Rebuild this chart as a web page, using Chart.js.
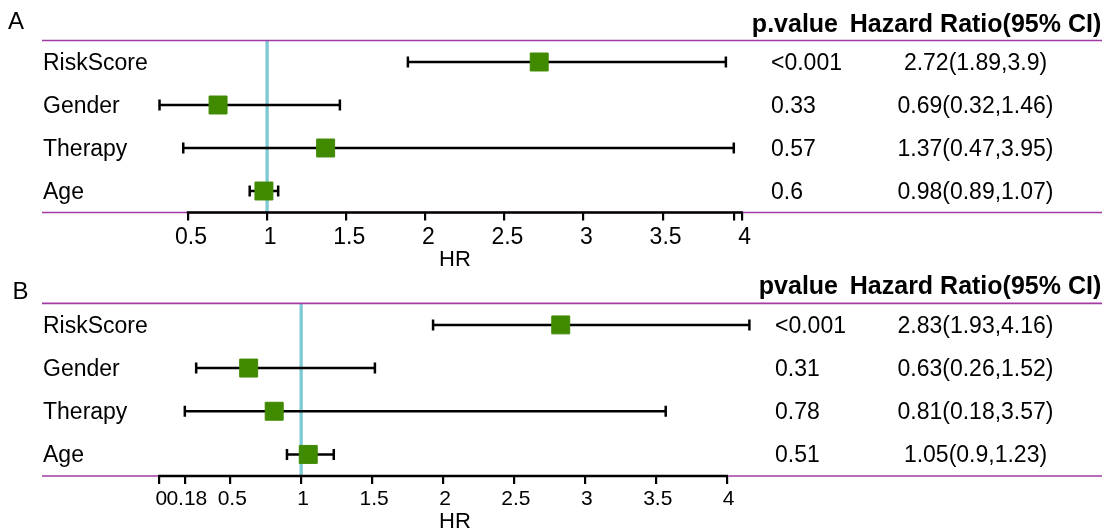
<!DOCTYPE html>
<html><head><meta charset="utf-8">
<script src="https://cdn.jsdelivr.net/npm/chart.js@4.4.1/dist/chart.umd.min.js"></script>
<style>
html,body{margin:0;padding:0;background:#fff;}
#wrap{position:relative;width:1107px;height:529px;overflow:hidden;background:#fff;}
canvas{position:absolute;left:0;display:block;}
#cA{top:0;} #cB{top:270px;}
</style></head><body>
<div id="wrap"><canvas id="cA" width="1107" height="270"></canvas><canvas id="cB" width="1107" height="259"></canvas></div>
<script>
// ---- data ----
const categories = ['RiskScore', 'Gender', 'Therapy', 'Age'];
const columnHeadersA = ['p.value', 'Hazard Ratio(95% CI)'];
const columnHeadersB = ['pvalue', 'Hazard Ratio(95% CI)'];
const hrA   = [2.72, 0.69, 1.37, 0.98];
const lowA  = [1.89, 0.32, 0.47, 0.89];
const highA = [3.9, 1.46, 3.95, 1.07];
const pA    = ['<0.001', '0.33', '0.57', '0.6'];
const ticksA = [0.5, 1, 1.5, 2, 2.5, 3, 3.5, 3.95, 4];
const tickLabelsA = ['0.5', '1', '1.5', '2', '2.5', '3', '3.5', '', '4'];
const hrB   = [2.83, 0.63, 0.81, 1.05];
const lowB  = [1.93, 0.26, 0.18, 0.9];
const highB = [4.16, 1.52, 3.57, 1.23];
const pB    = ['<0.001', '0.31', '0.78', '0.51'];
const ticksB = [0, 0.18, 0.5, 1, 1.5, 2, 2.5, 3, 3.5, 4];
const tickLabelsB = ['0', '0.18', '0.5', '1', '1.5', '2', '2.5', '3', '3.5', '4'];
const refLine = 1;
const axisTitle = 'HR';

// ---- styling ----
const FONT = '"Liberation Sans", Arial, Helvetica, sans-serif';
const PURPLE = '#A33BA6', CYAN = '#7DC9D4', GREEN = '#408A00';

function forest(id, d, L) {
  const n = categories.length;
  const rowY = i => n - i;
  const datasets = [];
  datasets.push({
    data: [{x: refLine, y: 0.5}, {x: refLine, y: n + 0.5}],
    showLine: true, borderColor: CYAN, borderWidth: 3.3, pointRadius: 0, fill: false, order: 3
  });
  categories.forEach((c, i) => {
    datasets.push({
      data: [{x: d.low[i], y: rowY(i)}, {x: d.high[i], y: rowY(i)}],
      showLine: true, fill: false, borderColor: '#000', borderWidth: 2.5,
      pointStyle: 'line', pointRotation: 90, pointRadius: 5.5,
      pointBorderWidth: 2.5, pointBorderColor: '#000', pointBackgroundColor: '#000', order: 2
    });
  });
  datasets.push({
    data: d.hr.map((v, i) => ({x: v, y: rowY(i)})),
    pointStyle: 'rect', pointRadius: 12.7, pointBackgroundColor: GREEN,
    pointBorderColor: GREEN, pointBorderWidth: 1, order: 1
  });

  const decor = {
    id: 'forestDecor',
    afterDraw(chart) {
      const ctx = chart.ctx, ca = chart.chartArea, xs = chart.scales.x, ys = chart.scales.y;
      ctx.save();
      ctx.strokeStyle = PURPLE; ctx.lineWidth = 1.7;
      [ca.top, ca.bottom].forEach(y => { ctx.beginPath(); ctx.moveTo(42, y); ctx.lineTo(1102, y); ctx.stroke(); });
      ctx.strokeStyle = '#000'; ctx.lineWidth = 2.4;
      ctx.beginPath();
      ctx.moveTo(xs.getPixelForValue(d.ticks[0]) - 1.2, ca.bottom);
      ctx.lineTo(xs.getPixelForValue(d.ticks[d.ticks.length - 1]) + 1.2, ca.bottom);
      ctx.stroke();

      ctx.fillStyle = '#000';
      ctx.textBaseline = 'alphabetic';
      ctx.font = `24px ${FONT}`;
      ctx.textAlign = 'left';
      ctx.fillText(L.letter, L.letterX, L.letterY);

      ctx.font = `bold 25px ${FONT}`;
      ctx.textAlign = 'right';
      ctx.fillText(d.headers[0], 838, L.headerY);
      ctx.textAlign = 'center';
      ctx.fillText(d.headers[1], 975.5, L.headerY);

      ctx.font = `23px ${FONT}`;
      categories.forEach((c, i) => {
        const y = ys.getPixelForValue(rowY(i)) + 8;
        ctx.textAlign = 'left';
        ctx.fillText(c, 43, y);
        ctx.fillText(d.p[i], L.pX, y);
        ctx.textAlign = 'center';
        ctx.fillText(`${d.hr[i]}(${d.low[i]},${d.high[i]})`, 975.5, y);
      });
      ctx.font = `22px ${FONT}`;
      ctx.textAlign = 'center';
      ctx.fillText(axisTitle, 455, L.titleY);
      ctx.restore();
    }
  };

  return new Chart(document.getElementById(id), {
    type: 'scatter',
    data: { datasets },
    options: {
      responsive: false, animation: false, events: [],
      layout: { padding: { left: L.padLeft, right: L.padRight, top: L.padTop, bottom: 0 } },
      plugins: { legend: { display: false }, tooltip: { enabled: false } },
      scales: {
        x: {
          type: 'linear', position: 'bottom', min: L.xMin, max: L.xMax,
          afterBuildTicks: s => { s.ticks = d.ticks.map(v => ({ value: v })); },
          afterFit: s => { s.height = L.axisHeight; },
          ticks: {
            autoSkip: false, maxRotation: 0, minRotation: 0, padding: 3, color: '#000',
            labelOffset: L.labelOffset,
            font: { family: FONT, size: L.tickSize },
            callback: (v, i) => d.tickLabels[i]
          },
          grid: { display: true, drawOnChartArea: false, drawTicks: true, tickLength: 8,
                  tickColor: '#000', tickWidth: 2.2, color: '#000', lineWidth: 2.2 },
          border: { display: false }
        },
        y: { type: 'linear', min: 0.5, max: n + 0.5, display: false }
      }
    },
    plugins: [decor]
  });
}

forest('cA',
  { hr: hrA, low: lowA, high: highA, p: pA, ticks: ticksA, tickLabels: tickLabelsA, headers: columnHeadersA },
  { padLeft: 108.9, padRight: 48.9, padTop: 40.5, axisHeight: 57.5, xMin: 0, xMax: 6,
    tickSize: 23, labelOffset: 3,
    letter: 'A', letterX: 8, letterY: 29, headerY: 31.7, pX: 771, titleY: 265.5 });

forest('cB',
  { hr: hrB, low: lowB, high: highB, p: pB, ticks: ticksB, tickLabels: tickLabelsB, headers: columnHeadersB },
  { padLeft: 159.3, padRight: 96.6, padTop: 33.3, axisHeight: 53, xMin: 0, xMax: 6,
    tickSize: 21, labelOffset: 2,
    letter: 'B', letterX: 12.5, letterY: 29.3, headerY: 24, pX: 775, titleY: 258 });
</script>
</body></html>
